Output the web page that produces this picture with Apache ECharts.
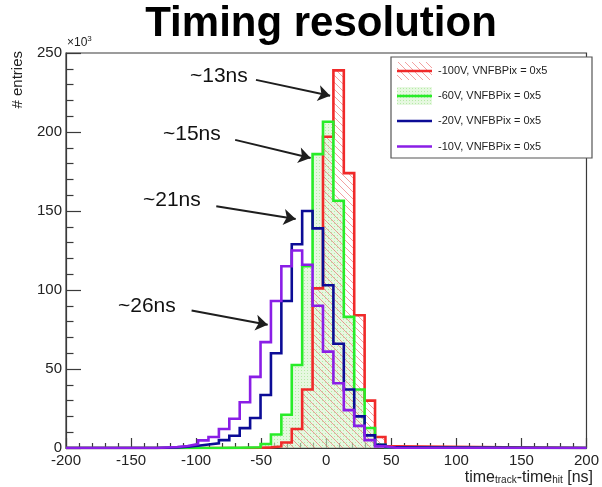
<!DOCTYPE html>
<html>
<head>
<meta charset="utf-8">
<script src="https://cdn.jsdelivr.net/npm/echarts@6/dist/echarts.min.js"></script>
<style>
  html, body { margin: 0; padding: 0; background: #fff; }
  #chart { width: 602px; height: 487px; }
</style>
</head>
<body>
<div id="chart"></div>
<script>
// Histogram bins (ns), 8 ns wide; counts in units of 10^3 entries
const binCenters = [-126.5, -118.5, -110.5, -102.5, -94.5, -86.5, -78.5, -70.5, -62.5, -54.5, -46.5, -38.5,
                    -30.5, -22.5, -14.5, -6.5, 1.5, 9.5, 17.5, 25.5, 33.5, 41.5, 49.5];
const binWidth = 8;

const entries100V = [0, 0, 0, 0, 0, 0, 0, 0, 0, 0.2, 0.4, 1, 3.5, 12, 37, 101, 197, 239, 174, 84, 30, 7, 1];
const entries60V  = [0, 0, 0, 0, 0, 0, 0.1, 0.2, 0.3, 0.5, 2.5, 8.5, 21, 52.5, 115, 186, 206.5, 156.5, 83, 37, 12.7, 2, 0.3];
const entries20V  = [0.2, 0.4, 0.8, 1.4, 2.2, 3, 5, 7.8, 12.6, 19, 33.5, 60, 93, 129, 150, 139, 103, 66, 37, 20, 8, 2, 0.5];
const entries10V  = [0.3, 0.6, 1.3, 2.5, 4.8, 7, 12, 18.5, 29, 45, 67, 93, 115, 125, 116, 90, 61, 41, 24, 14, 5, 1, 0.2];

const seriesNames = ['-100V, VNFBPix = 0x5', '-60V, VNFBPix = 0x5', '-20V, VNFBPix = 0x5', '-10V, VNFBPix = 0x5'];

const xRange = [-200, 200];
const xTickStep = 50;
const yRange = [0, 250];
const yTickStep = 50;

// Width labels with arrows pointing at each distribution (data coordinates)
const annotations = [
  { text: '~13ns', from: [-54, 233], to: [3, 223] },
  { text: '~15ns', from: [-70, 195], to: [-12, 183.5] },
  { text: '~21ns', from: [-84.5, 153], to: [-23.5, 145] },
  { text: '~26ns', from: [-103.5, 87], to: [-45, 78] }
];

const FONT = 'Liberation Sans, Arial, Helvetica, sans-serif';
const COLORS = ['#f02a2a', '#28ec28', '#0c0c96', '#8a1ee6'];

// Diagonal hatch (ROOT-like fill style) for the -100V histogram
function hatchPattern() {
  const s = 7;
  const c = document.createElement('canvas');
  c.width = s; c.height = s;
  const g = c.getContext('2d');
  g.strokeStyle = 'rgba(235,110,110,0.65)';
  g.lineWidth = 1;
  g.beginPath();
  g.moveTo(-1, -1); g.lineTo(s + 1, s + 1);
  g.moveTo(s - 1, -1); g.lineTo(s + 1, 1);
  g.moveTo(-1, s - 1); g.lineTo(1, s + 1);
  g.stroke();
  return c;
}

// Fine dotted light-green fill for the -60V histogram
function dotPattern() {
  const s = 3;
  const c = document.createElement('canvas');
  c.width = s; c.height = s;
  const g = c.getContext('2d');
  g.fillStyle = 'rgba(214,244,204,0.6)';
  g.fillRect(0, 0, s, s);
  g.fillStyle = 'rgba(150,225,130,0.6)';
  g.fillRect(1, 1, 1, 1);
  return c;
}

// Turn bin contents into step-outline points spanning the whole axis
function stepPoints(values) {
  const pts = [[xRange[0], 0]];
  pts.push([binCenters[0] - binWidth / 2, 0]);
  binCenters.forEach((c, i) => {
    pts.push([c - binWidth / 2, values[i]]);
    pts.push([c + binWidth / 2, values[i]]);
  });
  pts.push([binCenters[binCenters.length - 1] + binWidth / 2, 0]);
  pts.push([xRange[1], 0]);
  return pts;
}

const hatch = { image: hatchPattern(), repeat: 'repeat' };
const dots = { image: dotPattern(), repeat: 'repeat' };

const chart = echarts.init(document.getElementById('chart'), null, { renderer: 'canvas' });
const axisColor = '#3a3a3a';

function histSeries(name, values, color, fill, z) {
  const s = {
    name: name,
    type: 'line',
    data: stepPoints(values),
    showSymbol: false,
    symbol: 'none',
    clip: true,
    z: z,
    lineStyle: fill ? { width: 0, opacity: 0 } : { color: color, width: 2.6, join: 'miter' },
    silent: true
  };
  if (fill) s.areaStyle = { color: fill, opacity: 1, origin: 'start' };
  return s;
}

// fills first, then outlines: red, green, blue, purple
const series = [
  histSeries('fill60', entries60V, COLORS[1], dots, 2),
  histSeries('fill100', entries100V, COLORS[0], hatch, 2),
  histSeries(seriesNames[0], entries100V, COLORS[0], null, 3),
  histSeries(seriesNames[1], entries60V, COLORS[1], null, 3),
  histSeries(seriesNames[2], entries20V, COLORS[2], null, 3),
  histSeries(seriesNames[3], entries10V, COLORS[3], null, 3),
  {
    type: 'line',
    data: [],
    silent: true,
    z: 4,
    markLine: {
      silent: true,
      symbol: ['none', 'arrow'],
      symbolSize: 12,
      lineStyle: { color: '#1e1e1e', width: 2, type: 'solid' },
      label: { show: false },
      data: annotations.map(a => [{ coord: a.from }, { coord: a.to }])
    }
  }
];

// legend rows
const legendX = 391, legendY = 57, legendW = 201, legendH = 101;
const rowYs = [71, 96, 121, 146.5];
const legendFills = [hatch, dots, null, null];
const legendChildren = [{
  type: 'rect',
  shape: { x: legendX, y: legendY, width: legendW, height: legendH },
  style: { fill: '#fff', stroke: '#555', lineWidth: 1.2 }
}];
seriesNames.forEach((n, i) => {
  const y = rowYs[i];
  if (legendFills[i]) {
    legendChildren.push({
      type: 'rect',
      shape: { x: 397, y: y - 9, width: 35, height: 18 },
      style: { fill: legendFills[i] }
    });
  }
  legendChildren.push({
    type: 'line',
    shape: { x1: 397, y1: y, x2: 432, y2: y },
    style: { stroke: COLORS[i], lineWidth: 2.6 }
  });
  legendChildren.push({
    type: 'text',
    x: 438, y: y,
    style: { text: n, fontSize: 11, fontFamily: FONT, fill: '#222', verticalAlign: 'middle' }
  });
});

const annotationTextPos = [[190, 76], [163, 134], [143, 200], [118, 306]];
const annotationTexts = annotations.map((a, i) => ({
  type: 'text',
  x: annotationTextPos[i][0], y: annotationTextPos[i][1],
  style: { text: a.text, fontSize: 21, fontFamily: FONT, fill: '#111', verticalAlign: 'middle' }
}));

chart.setOption({
  animation: false,
  backgroundColor: '#fff',
  grid: {
    left: 66, right: 10, top: 53, bottom: 39,
    show: true, borderColor: axisColor, borderWidth: 1.2, backgroundColor: 'transparent'
  },
  xAxis: {
    type: 'value',
    min: xRange[0], max: xRange[1], interval: xTickStep,
    axisLine: { show: true, onZero: false, lineStyle: { color: axisColor, width: 1.2 } },
    axisTick: { show: true, inside: true, length: 10, lineStyle: { color: axisColor, width: 1.2 } },
    minorTick: { show: true, splitNumber: 5, length: 5, lineStyle: { color: axisColor, width: 1.2 } },
    splitLine: { show: false },
    axisLabel: { color: '#222', fontSize: 15, fontFamily: FONT, margin: 5 }
  },
  yAxis: {
    type: 'value',
    min: yRange[0], max: yRange[1], interval: yTickStep,
    axisLine: { show: true, onZero: false, lineStyle: { color: axisColor, width: 1.2 } },
    axisTick: { show: true, inside: true, length: 15, lineStyle: { color: axisColor, width: 1.2 } },
    minorTick: { show: true, splitNumber: 5, length: 7.5, lineStyle: { color: axisColor, width: 1.2 } },
    splitLine: { show: false },
    axisLabel: { color: '#222', fontSize: 15, fontFamily: FONT, margin: 4 }
  },
  series: series,
  graphic: [
    {
      type: 'text', x: 321, y: 24,
      style: { text: 'Timing resolution', fontSize: 42, fontWeight: 'bold', fontFamily: FONT,
               fill: '#000', align: 'center', verticalAlign: 'middle' }
    },
    {
      type: 'text', x: 67, y: 50,
      style: { text: '×10{sup|3}', rich: { sup: { fontSize: 8, padding: [0, 0, 7, 0] } },
               fontSize: 12, fontFamily: FONT, fill: '#222', verticalAlign: 'bottom' }
    },
    {
      type: 'text', x: 18, y: 51, rotation: Math.PI / 2,
      style: { text: '# entries', fontSize: 15, fontFamily: FONT, fill: '#222',
               align: 'right', verticalAlign: 'middle' }
    },
    {
      type: 'text', x: 593, y: 470,
      style: {
        text: '{a|time}{s|track}{a|-time}{s|hit}{a| [ns]}',
        align: 'right', verticalAlign: 'top', fontFamily: FONT, fill: '#222',
        rich: {
          a: { fontSize: 16, fontFamily: FONT, fill: '#222' },
          s: { fontSize: 10, fontFamily: FONT, fill: '#222', padding: [5, 0, 0, 0] }
        }
      }
    },
    { type: 'group', children: legendChildren },
    ...annotationTexts
  ]
});
</script>
</body>
</html>
